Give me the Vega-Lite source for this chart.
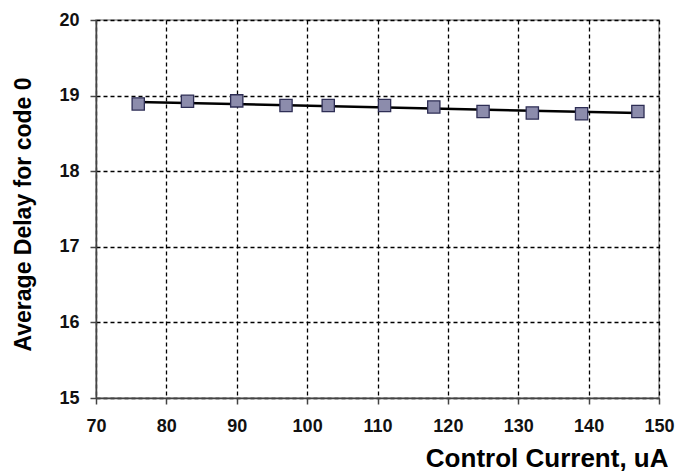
{
  "$schema": "https://vega.github.io/schema/vega-lite/v6.json",
  "width": 563,
  "height": 378,
  "autosize": {"type": "none"},
  "padding": {"left": 96, "top": 20, "right": 19, "bottom": 78},
  "background": "white",
  "config": {
    "view": {"stroke": "#999999", "strokeWidth": 1.5},
    "font": "Liberation Sans",
    "axis": {
      "labelFont": "Liberation Sans",
      "labelFontWeight": "bold",
      "labelFontSize": 18,
      "labelColor": "#111",
      "titleFont": "Liberation Sans",
      "titleFontWeight": "bold",
      "titleColor": "#000",
      "domainColor": "#444",
      "domainWidth": 1.5,
      "tickColor": "#444",
      "tickWidth": 1.5,
      "tickSize": 6,
      "grid": true,
      "gridColor": "#000",
      "gridDash": [4, 3],
      "gridWidth": 1.3,
      "gridOpacity": 1
    }
  },
  "datasets": {
    "pts": [
      {"current": 76, "delay": 18.89},
      {"current": 83, "delay": 18.925},
      {"current": 90, "delay": 18.93},
      {"current": 97, "delay": 18.87},
      {"current": 103, "delay": 18.87},
      {"current": 111, "delay": 18.87},
      {"current": 118, "delay": 18.85},
      {"current": 125, "delay": 18.79},
      {"current": 132, "delay": 18.77},
      {"current": 139, "delay": 18.76},
      {"current": 147, "delay": 18.79}
    ],
    "trend": [
      {"current": 76, "delay": 18.915},
      {"current": 147, "delay": 18.77}
    ]
  },
  "layer": [
    {
      "data": {"name": "trend"},
      "mark": {"type": "line", "color": "#000", "strokeWidth": 2.5},
      "encoding": {
        "x": {
          "field": "current", "type": "quantitative",
          "scale": {"domain": [70, 150], "nice": false, "zero": false},
          "axis": {
            "title": "Control Current, uA",
            "titleFontSize": 26,
            "titleAlign": "right",
            "titleAnchor": "end",
            "titleBaseline": "alphabetic",
            "titleX": 572,
            "titleY": 68,
            "values": [70, 80, 90, 100, 110, 120, 130, 140, 150],
            "format": "d",
            "labelPadding": 13,
            "labelFlush": false
          }
        },
        "y": {
          "field": "delay", "type": "quantitative",
          "scale": {"domain": [15, 20], "nice": false, "zero": false},
          "axis": {
            "title": "Average Delay for code 0",
            "titleFontSize": 23,
            "titleAngle": -90,
            "titleAlign": "center",
            "titleBaseline": "alphabetic",
            "titleX": -66,
            "titleY": 194,
            "values": [15, 16, 17, 18, 19, 20],
            "format": "d",
            "labelPadding": 11
          }
        }
      }
    },
    {
      "data": {"name": "pts"},
      "mark": {"type": "square", "size": 150, "color": "#8c8cac", "opacity": 1, "filled": true, "stroke": "#2e2e55", "strokeWidth": 1.3},
      "encoding": {
        "x": {"field": "current", "type": "quantitative"},
        "y": {"field": "delay", "type": "quantitative"}
      }
    }
  ]
}
